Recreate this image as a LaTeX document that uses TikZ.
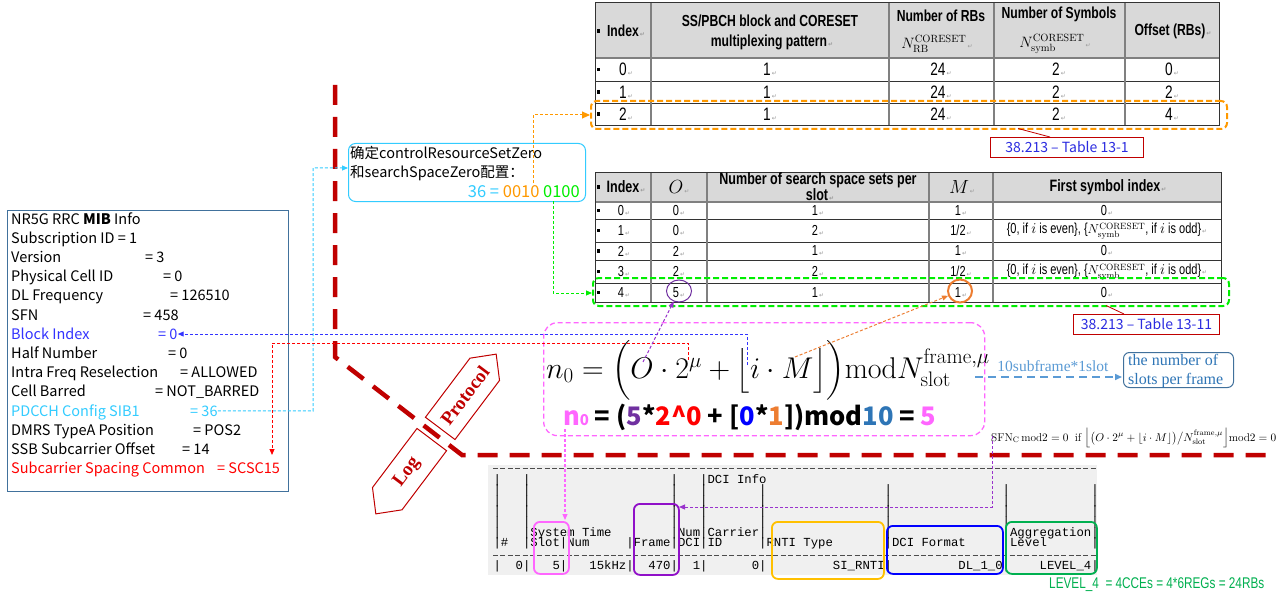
\RequirePackage{fix-cm}
\documentclass[tikz,border=0pt]{standalone}
\usepackage{amsmath}
\usepackage{fontspec}
\usetikzlibrary{arrows.meta,shapes.geometric}
\newfontfamily\cjk{Noto Sans CJK SC}
\newfontfamily\tabf[FakeStretch=0.76]{Liberation Sans}
\newfontfamily\serf{Liberation Serif}
\newfontfamily\monof{Liberation Mono}
\newfontfamily\djv{DejaVu Sans}
\newcommand\fsz[2]{\fontsize{#1}{#2}\selectfont}
\newcommand\rt{{\djv\fsz{6}{6}\color{black!40}\,↵}}
\newcommand\lgt[3]{\node[logt] at ({493.3+7.38*#1},#2) {#3};}
\definecolor{dred}{HTML}{C00000}
\definecolor{cpink}{HTML}{FF66FF}
\definecolor{ccyan}{HTML}{33CCFF}
\definecolor{cora}{HTML}{FF9900}
\definecolor{cora2}{HTML}{ED7D31}
\definecolor{cgrn}{HTML}{00EE00}
\definecolor{cpur}{HTML}{7030A0}
\definecolor{cpur2}{HTML}{9933CC}
\definecolor{cblu}{HTML}{3333FF}
\definecolor{cred}{HTML}{FF0000}
\definecolor{csteel}{HTML}{41719C}
\definecolor{csky}{HTML}{5B9BD5}
\definecolor{ctblue}{HTML}{2E75B6}
\definecolor{crefb}{HTML}{2B2BE0}
\definecolor{cdor}{HTML}{FFC000}
\definecolor{cdgr}{HTML}{00B050}
\definecolor{cdpu}{HTML}{9010C8}
\definecolor{thgray}{HTML}{D9D9D9}
\definecolor{lgbg}{HTML}{F0F0F0}
\tikzset{
  conn/.style={line width=1pt, dash pattern=on 3pt off 2pt, -{Triangle[length=6pt,width=5pt]}},
  th/.style={font=\tabf\bfseries\fsz{16}{18}, inner sep=0pt},
  thb/.style={font=\tabf\bfseries\fsz{16.5}{18}, inner sep=0pt},
  td/.style={font=\tabf\fsz{18}{20}, inner sep=0pt},
  tds/.style={font=\tabf\fsz{14.5}{16}, inner sep=0pt},
  mib/.style={anchor=base west, inner sep=0pt, font=\cjk\fsz{14.5}{17}},
  logt/.style={anchor=base west, inner sep=0pt, font=\monof\fsz{12.3}{12}},
  dcibox/.style={draw, line width=1.8pt, rounded corners=6pt, anchor=north west, inner sep=0pt},
  refbox/.style={draw=dred, line width=1pt, fill=white, font=\cjk\fsz{14}{14}, text=crefb, anchor=north west, inner sep=0pt},
  tline/.style={black!80, line width=0.8pt},
  tcol/.style={black!50, line width=1.6pt},
  bigdash/.style={dred, line width=4.5pt, dash pattern=on 20pt off 12pt},
}
\begin{document}
\begin{tikzpicture}[x=1pt,y=-1pt]
\useasboundingbox (0,0) rectangle (1288,599);
\fill[white] (0,0) rectangle (1288,599);

% ---------------- Table 13-1 ----------------
\fill[thgray] (595,2) rectangle (1219,58);
\foreach \y in {58,81,103} \draw[tline] (595,\y) -- (1219,\y);
\draw[black!50, line width=1.6pt] (595,58) -- (1219,58);
\foreach \x in {651,889,994,1125} \draw[tcol] (\x,2) -- (\x,125);
\draw[tline] (595,2) rectangle (1219,125);
\foreach \y in {31,69.5,92,114} \fill (598.5,\y) ++(-1.8,-1.8) rectangle ++(3.6,3.6);
\node[th] (a1) at (626,31) {Index\rt};
\node[th] (a2a) at (770,20.5) {SS/PBCH block and CORESET};
\node[th] (a2b) at (772,42.5) {multiplexing pattern\rt};
\node[th] (a3a) at (941,16) {Number of RBs};
\node[inner sep=0pt] (a3b) at (937,44) {\fsz{15}{15}$N^{\mathrm{CORESET}}_{\mathrm{RB}}$\rt};
\node[th] (a4a) at (1059,14) {Number of Symbols};
\node[inner sep=0pt] (a4b) at (1055,44) {\fsz{15}{15}$N^{\mathrm{CORESET}}_{\mathrm{symb}}$\rt};
\node[th] (a5) at (1173,31) {Offset (RBs)\rt};
\node[td] (r0a) at (626,69.5) {0\rt}; \node[td] (r0b) at (770,69.5) {1\rt}; \node[td] (r0c) at (941,69.5) {24\rt}; \node[td] (r0d) at (1059,69.5) {2\rt}; \node[td] (r0e) at (1172,69.5) {0\rt};
\node[td] (r1a) at (626,92) {1\rt}; \node[td] (r1b) at (770,92) {1\rt}; \node[td] (r1c) at (941,92) {24\rt}; \node[td] (r1d) at (1059,92) {2\rt}; \node[td] (r1e) at (1172,92) {2\rt};
\node[td] (r2a) at (626,114) {2\rt}; \node[td] (r2b) at (770,114) {1\rt}; \node[td] (r2c) at (941,114) {24\rt}; \node[td] (r2d) at (1059,114) {2\rt}; \node[td] (r2e) at (1172,114) {4\rt};
\node[draw=cora, line width=2pt, dash pattern=on 6pt off 3pt, rounded corners=6pt, minimum width=636pt, minimum height=28pt, anchor=north west, inner sep=0pt] (orbox) at (590,100) {};
\node[refbox, minimum width=153pt, minimum height=20pt] (ref1) at (990,137) {38.213 – Table 13-1};
\coordinate (rl1) at (1018,128.5);
\draw[dred, line width=0.8pt] (rl1) -- (ref1.north west -| 1050,0);

% ---------------- Table 13-11 ----------------
\fill[thgray] (595,172) rectangle (1221,202);
\foreach \y in {219,242,260,283} \draw[tline] (595,\y) -- (1221,\y);
\draw[black!50, line width=1.6pt] (595,202) -- (1221,202);
\foreach \x in {651,707,929,993} \draw[tcol] (\x,172) -- (\x,302);
\draw[tline] (595,172) rectangle (1221,302);
\foreach \y in {187,210.5,230.5,251,271.5,292.5} \fill (598.5,\y) ++(-1.8,-1.8) rectangle ++(3.6,3.6);
\node[thb] (b1) at (626,187) {Index\rt};
\node[inner sep=0pt] (b2) at (679,187) {\fsz{19}{19}$O$\rt};
\node[thb] (b3a) at (818,180) {Number of search space sets per};
\node[thb] (b3b) at (820,195) {slot\rt};
\node[inner sep=0pt] (b4) at (962,187) {\fsz{19}{19}$M$\rt};
\node[thb] (b5) at (1108,187) {First symbol index\rt};
\node[tds] (s0a) at (624,210.5) {0\rt}; \node[tds] (s0b) at (679,210.5) {0\rt}; \node[tds] (s0c) at (818,210.5) {1\rt}; \node[tds] (s0d) at (961,210.5) {1\rt}; \node[tds] (s0e) at (1107,210.5) {0\rt};
\node[tds] (s1a) at (624,230.5) {1\rt}; \node[tds] (s1b) at (679,230.5) {0\rt}; \node[tds] (s1c) at (818,230.5) {2\rt}; \node[tds] (s1d) at (961,230.5) {1/2\rt};
\node[tds] (s1e) at (1107,231) {\{0, if {\fsz{15}{15}$i$} is even\}, \{{\fsz{13}{13}$N^{\mathrm{CORESET}}_{\mathrm{symb}}$}, if {\fsz{15}{15}$i$} is odd\}\rt};
\node[tds] (s2a) at (624,251) {2\rt}; \node[tds] (s2b) at (679,251) {2\rt}; \node[tds] (s2c) at (818,251) {1\rt}; \node[tds] (s2d) at (961,251) {1\rt}; \node[tds] (s2e) at (1107,251) {0\rt};
\node[tds] (s3a) at (624,271.5) {3\rt}; \node[tds] (s3b) at (679,271.5) {2\rt}; \node[tds] (s3c) at (818,271.5) {2\rt}; \node[tds] (s3d) at (961,271.5) {1/2\rt};
\node[tds] (s3e) at (1107,272) {\{0, if {\fsz{15}{15}$i$} is even\}, \{{\fsz{13}{13}$N^{\mathrm{CORESET}}_{\mathrm{symb}}$}, if {\fsz{15}{15}$i$} is odd\}\rt};
\node[tds] (s4a) at (624,292.5) {4\rt}; \node[tds] (s4b) at (679,292.5) {5\rt}; \node[tds] (s4c) at (818,292.5) {1\rt}; \node[tds] (s4d) at (961,292.5) {1\rt}; \node[tds] (s4e) at (1107,292.5) {0\rt};
\node[draw=cgrn, line width=2pt, dash pattern=on 6pt off 3pt, rounded corners=6pt, minimum width=636pt, minimum height=28pt, anchor=north west, inner sep=0pt] (grbox) at (592,277) {};
\node[draw=cpur, line width=1pt, ellipse, minimum width=25pt, minimum height=22pt, inner sep=0pt] (c5) at (679,291) {};
\node[draw=cora2, line width=2pt, ellipse, minimum width=24pt, minimum height=23pt, inner sep=0pt] (c1) at (960,291) {};
\node[refbox, minimum width=146pt, minimum height=20pt] (ref2) at (1073,314) {38.213 – Table 13-11};
\coordinate (rl2) at (1106,305.5);
\draw[dred, line width=0.8pt] (rl2) -- (ref2.north west -| 1124,0);

% ---------------- big dark red divider ----------------
\draw[bigdash] (335,85) -- (335,357) -- (462,455) -- (1275,455);
\begin{scope}[shift={(436,434)}, rotate=53]
\draw[dred, line width=1pt, fill=white] (7,-18.5) -- (81,-18.5) -- (100,0) -- (81,18.5) -- (7,18.5) -- cycle;
\draw[dred, line width=1pt, fill=white] (-7,-18.5) -- (-81,-18.5) -- (-100,0) -- (-81,18.5) -- (-7,18.5) -- cycle;
\node[rotate=53, text=dred, font=\serf\bfseries\fsz{19}{19}, inner sep=0pt] (prot) at (48,0) {Protocol};
\node[rotate=53, text=dred, font=\serf\bfseries\fsz{19}{19}, inner sep=0pt] (logn) at (-48,0) {Log};
\end{scope}

% ---------------- MIB box ----------------
\node[draw=csteel, line width=1pt, minimum width=281pt, minimum height=281pt, anchor=north west, inner sep=0pt] (mibbox) at (7,210) {};
\node[mib] (m0) at (11,224) {NR5G RRC \textbf{MIB} Info};
\node[mib] (m1) at (11,243.2) {Subscription ID = 1};
\node[mib] (m2) at (11,262.4) {Version}; \node[mib] (v2) at (145,262.4) {= 3};
\node[mib] (m3) at (11,281.6) {Physical Cell ID}; \node[mib] (v3) at (163,281.6) {= 0};
\node[mib] (m4) at (11,300.8) {DL Frequency}; \node[mib] (v4) at (170,300.8) {= 126510};
\node[mib] (m5) at (11,320) {SFN}; \node[mib] (v5) at (143,320) {= 458};
\node[mib, text=cblu] (m6) at (11,339.2) {Block Index}; \node[mib, text=cblu] (v6) at (158,339.2) {= 0};
\node[mib] (m7) at (11,358.4) {Half Number}; \node[mib] (v7) at (168,358.4) {= 0};
\node[mib] (m8) at (11,377.6) {Intra Freq Reselection}; \node[mib] (v8) at (180,377.6) {= ALLOWED};
\node[mib] (m9) at (11,396.8) {Cell Barred}; \node[mib] (v9) at (155,396.8) {= NOT\_BARRED};
\node[mib, text=ccyan] (m10) at (11,416) {PDCCH Config SIB1}; \node[mib, text=ccyan] (v10) at (190,416) {= 36};
\node[mib] (m11) at (11,435.2) {DMRS TypeA Position}; \node[mib] (v11) at (193,435.2) {= POS2};
\node[mib] (m12) at (11,454.4) {SSB Subcarrier Offset}; \node[mib] (v12) at (182,454.4) {= 14};
\node[mib, text=cred] (m13) at (11,473.6) {Subcarrier Spacing Common}; \node[mib, text=cred] (v13) at (217,473.6) {= SCSC15};

% ---------------- cyan box ----------------
\node[draw=ccyan, line width=1pt, rounded corners=7pt, minimum width=237pt, minimum height=58pt, anchor=north west, inner sep=0pt] (cbox) at (348,143) {};
\node[mib] (ct1) at (350,159) {确定controlResourceSetZero};
\node[mib] (ct2) at (350,178) {和searchSpaceZero配置：};
\node[mib, anchor=base east, font=\cjk\fsz{16.5}{17}] (ct3) at (580,197.5) {\textcolor{ccyan}{36 = }\textcolor{cora}{0010} \textcolor{cgrn}{0100}};

% ---------------- formula box ----------------
\node[draw=cpink, line width=1.3pt, dash pattern=on 5pt off 3pt, rounded corners=14pt, minimum width=441pt, minimum height=113pt, anchor=north west, inner sep=0pt] (fbox) at (543,322) {};
\node[anchor=base west, inner sep=0pt] (form) at (546,378) {\fsz{30}{31}$n_0=\Bigl(O\cdot 2^{\mu}+\bigl\lfloor i\cdot M\bigr\rfloor\Bigr)\mathrm{mod}N_{\mathrm{slot}}^{\mathrm{frame},\mu}$};
\node[anchor=base west, inner sep=0pt, font=\cjk\bfseries\fsz{25.5}{26}] (calc) at (563,425) {\textcolor{cpink}{n{\fsz{15}{15}0}} = (\textcolor{cpur}{5}*\textcolor{cred}{2\textasciicircum 0} + [\textcolor{blue}{0}*\textcolor{cora2}{1}])mod\textcolor{ctblue}{10} = \textcolor{cpink}{5}};

\node[anchor=base west, inner sep=0pt] (sfn) at (991,441) {\fsz{11.3}{12}$\mathrm{SFN_C}\,\mathrm{mod}2=0\;\;\text{if}\;\Bigl\lfloor\bigl(O\cdot2^{\mu}+\lfloor i\cdot M\rfloor\bigr)\big/N_{\mathrm{slot}}^{\mathrm{frame},\mu}\Bigr\rfloor\mathrm{mod}2=0$};

\node[draw=csteel, line width=1pt, rounded corners=6pt, minimum width=110pt, minimum height=35pt, anchor=north west, inner sep=0pt] (npf) at (1123,352) {};
\node[anchor=base west, inner sep=0pt, font=\serf\fsz{16}{16}, text=ctblue] (npf1) at (1128,365) {\makebox[90pt][s]{the number of}};
\node[anchor=base west, inner sep=0pt, font=\serf\fsz{16}{16}, text=ctblue] (npf2) at (1128,384) {slots per frame};
\node[font=\serf\fsz{15.5}{15.5}, text=csky, inner sep=0pt] (sub) at (1053,366) {10subframe*1slot};

% ---------------- DCI log ----------------
\fill[lgbg] (488,465) rectangle (1097,575);
\draw[black!70, line width=0.9pt, dash pattern=on 5pt off 2.38pt] (493,468) -- (1097,468);
\draw[black!70, line width=0.9pt, dash pattern=on 5pt off 2.38pt] (493,555) -- (1097,555);
\foreach \c in {0,4,24,28} {\lgt{\c}{483}{|}}
\lgt{29}{483}{DCI Info}
\foreach \y in {493.5,504,514.5,525} {\foreach \c in {0,4,24,28,36,53,69,81} {\lgt{\c}{\y}{|}}}
\foreach \c in {0,4,24,28,36,53,69,81} {\lgt{\c}{536}{|}}
\lgt{5}{536}{System Time} \lgt{25}{536}{Num} \lgt{29}{536}{Carrier} \lgt{70}{536}{Aggregation}
\foreach \c in {0,4,9,18,24,28,36,53,69,81} {\lgt{\c}{546.5}{|}}
\lgt{1}{546.5}{\#} \lgt{5}{546.5}{Slot} \lgt{10}{546.5}{Num} \lgt{19}{546.5}{Frame} \lgt{25}{546.5}{DCI} \lgt{29}{546.5}{ID} \lgt{37}{546.5}{RNTI Type} \lgt{54}{546.5}{DCI Format} \lgt{70}{546.5}{Level}
\foreach \c in {0,4,9,18,24,28,36,53,69,81} {\lgt{\c}{569}{|}}
\lgt{3}{569}{0} \lgt{8}{569}{5} \lgt{13}{569}{15kHz} \lgt{21}{569}{470} \lgt{27}{569}{1} \lgt{35}{569}{0} \lgt{46}{569}{SI\_RNTI} \lgt{63}{569}{DL\_1\_0} \lgt{74}{569}{LEVEL\_4}
\node[dcibox, draw=cpink, minimum width=35pt, minimum height=52pt] (dslot) at (533,521) {};
\node[dcibox, draw=cdpu, minimum width=45pt, minimum height=71pt] (dframe) at (633,503) {};
\node[dcibox, draw=cdor, minimum width=112pt, minimum height=57pt] (drnti) at (771,521) {};
\node[dcibox, draw=blue, minimum width=116pt, minimum height=48pt] (dfmt) at (886,525) {};
\node[dcibox, draw=cdgr, minimum width=91pt, minimum height=52pt] (dagg) at (1005,521) {};
\node[anchor=base west, inner sep=0pt, font=\tabf\fsz{15.5}{15.5}, text=cdgr] (lvl) at (1049,588) {LEVEL\_4 \ = 4CCEs = 4*6REGs = 24RBs};

% ---------------- connectors ----------------
\coordinate (o1) at (533,183);
\draw[conn, cora, -{Triangle[length=8pt,width=7pt]}] (o1) |- (orbox.west);
\coordinate (g1) at (553,201);
\coordinate (g2) at (592,293);
\draw[conn, cgrn] (g1) |- (g2);
\coordinate (cy1) at (313,411);
\coordinate (cy2) at (348,168);
\draw[conn, ccyan] (v10.east) -- (cy1) |- (cy2);
\coordinate (bl1) at (747,365);
\draw[conn, cblu] (bl1) |- (v6.east);
\coordinate (rd1) at (688,360);
\coordinate (rdc) at (688,343);
\coordinate (rd2) at (272,455);
\draw[conn, cred] (rd1) -- (rdc) -| (rd2);
\coordinate (pO) at (643,362);
\draw[conn, cpur2] (pO) -- (c5);
\coordinate (oM) at (795,357);
\draw[conn, cora2] (oM) -- (c1);
\coordinate (pn1) at (565,429);
\coordinate (pn2) at (565,520);
\draw[conn, cpink, line width=1.2pt] (pn1) -- (pn2);
\coordinate (pp1) at (992,436);
\coordinate (pp2) at (679,507);
\draw[conn, cpur2] (pp1) |- (pp2);
\coordinate (lb1) at (975,377);
\coordinate (lb2) at (1122,377);
\draw[csky, line width=1.5pt, dash pattern=on 8pt off 5pt, -{Triangle[length=7pt,width=6pt]}] (lb1) -- (lb2);
\end{tikzpicture}
\end{document}
